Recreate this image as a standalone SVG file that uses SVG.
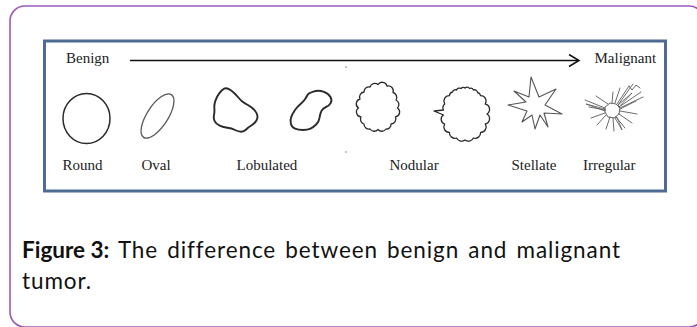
<svg xmlns="http://www.w3.org/2000/svg" width="697" height="327" viewBox="0 0 697 327">
  <style>
    .lbl { font-family: "Liberation Serif", "Times New Roman", serif; font-size: 15px; fill: #222; }
    .cap { font-family: Lato, "Liberation Sans", sans-serif; font-size: 22.5px; fill: #111; }
    .ink { fill: none; stroke: #2a2a2a; stroke-linejoin: round; stroke-linecap: round; }
    .ray { fill: none; stroke: #5a5a5a; stroke-width: 0.9; stroke-linecap: round; }
  </style>

  <!-- card -->
  <rect x="10" y="6" width="694" height="321" rx="15" fill="#fff" stroke="#9b59b6" stroke-width="1.6"/>
  <!-- figure frame -->
  <rect x="44.5" y="41" width="621" height="150" fill="#fff" stroke="#4d6b93" stroke-width="3"/>

  <!-- scale ends -->
  <g id="scale">
    <text class="lbl" x="66" y="63">Benign</text>
    <text class="lbl" x="594.5" y="63">Malignant</text>
  </g>

  <g id="connectors">
    <line x1="130" y1="60.5" x2="578" y2="60.5" stroke="#111" stroke-width="1.5"/>
    <polyline points="569,54.5 579,60.5 569,66.5" fill="none" stroke="#111" stroke-width="1.5" stroke-linejoin="miter"/>
  </g>

  <!-- specks -->
  <circle cx="346" cy="67" r="0.8" fill="#777"/>
  <circle cx="346" cy="152" r="0.8" fill="#777"/>

  <g id="round">
    <ellipse cx="86.5" cy="118.5" rx="23.5" ry="25" class="ink" stroke-width="1.5"/>
    <text class="lbl" x="62.5" y="170">Round</text>
  </g>

  <g id="oval">
    <ellipse cx="157.5" cy="116" rx="25.5" ry="10.5" transform="rotate(-57 157.5 116)" fill="none" stroke="#5a5a5a" stroke-width="1.3"/>
    <text class="lbl" x="141.5" y="170">Oval</text>
  </g>

  <g id="lobulated">
    <path class="ink" stroke-width="1.9" d="M224.2,88.65 Q226.7,87.3 230.85,90.3 Q235,93.3 238.35,97.5 Q241.7,101.7 245,103.35 Q248.3,105 251.650,107.5 Q255,110 256.65,113.35 Q258.3,116.7 256.65,120 Q255,123.3 251.65,125.3 Q248.3,127.3 246.15,129.5 Q244,131.7 241.15,131.7 Q238.3,131.7 235,130 Q231.7,128.3 227.5,127.8 Q223.3,127.3 219.65,125.65 Q216,124 214.65,121.15 Q213.3,118.3 214,115 Q214.7,111.7 214.35,108.35 Q214,105 215.35,100.85 Q216.7,96.7 219.2,93.35 Q221.7,90 224.2,88.65 Z"/>
    <path class="ink" stroke-width="1.9" d="M307.5,95 Q308.3,93.3 313.3,91.65 Q318.3,90 323.3,91.65 Q328.3,93.3 330.3,96.65 Q332.3,100 330.8,102.85 Q329.3,105.7 326,107 Q322.7,108.3 321.35,111.15 Q320,114 319.5,117.85 Q319,121.7 316.15,124.5 Q313.3,127.3 310.5,128.65 Q307.7,130 303,130 Q298.3,130 295,128.65 Q291.7,127.3 290.85,123.65 Q290,120 291.35,116.65 Q292.7,113.3 295,110 Q297.3,106.7 300.3,104.2 Q303.3,101.7 305,99.2 Q306.7,96.7 307.5,95 Z"/>
    <text class="lbl" x="236.5" y="170">Lobulated</text>
  </g>

  <g id="nodular">
    <path class="ink" stroke-width="1.3" d="M397.5,108 A5,5 0 0 1 395.5,117 A5,5 0 0 1 391,124 A4.5,4.5 0 0 1 386,129 A5,5 0 0 1 378,129.5 A5,5 0 0 1 370,129 A5,5 0 0 1 364,124 A5,5 0 0 1 361,117 A5,5 0 0 1 358.5,108 A5,5 0 0 1 360,99 A5,5 0 0 1 364,92 A5,5 0 0 1 370,87 A5,5 0 0 1 378,84.5 A5,5 0 0 1 387,86 A5,5 0 0 1 393,92.5 A5,5 0 0 1 396,100 A5,5 0 0 1 397.5,108 Z"/>
    <path class="ink" stroke-width="1.3" d="M487,114 A5.5,5.5 0 0 1 485.3,124 A5.5,5.5 0 0 1 480.6,132.4 A5.5,5.5 0 0 1 473.4,138 A5.5,5.5 0 0 1 465,140 A5.5,5.5 0 0 1 456.6,138 A5.5,5.5 0 0 1 449.4,132.4 A5.5,5.5 0 0 1 444.7,124 A5,5 0 0 1 443.5,115 L434,111 L443.5,110 A5,5 0 0 1 444.7,104 A5.5,5.5 0 0 1 449.4,95.6 A4,4 0 0 1 452.5,92 A3,3 0 0 1 456.6,90 A3,3 0 0 1 461,88.5 A3,3 0 0 1 465,88 A3,3 0 0 1 469.5,88.5 A3,3 0 0 1 473.4,90 A3,3 0 0 1 477.5,92.5 A4,4 0 0 1 480.6,95.6 A5.5,5.5 0 0 1 485.3,104 A5.5,5.5 0 0 1 487,114 Z"/>
    <text class="lbl" x="389.5" y="170">Nodular</text>
  </g>

  <g id="stellate">
    <polygon points="531,77 539,97 556,89 545,105 562,114 544,113 548,127 540,115 535,129 532,115 522,122 527,111 508,105 526,102 514,91 529,97" fill="none" stroke="#555" stroke-width="1.1" stroke-linejoin="round"/>
    <text class="lbl" x="511.5" y="170">Stellate</text>
  </g>

  <g id="irregular">
    <polygon points="605,107 610,103 616,104 620,108 619,114 614,118 608,117 605,112" fill="none" stroke="#555" stroke-width="0.9"/>
    <path class="ray" d="M605,108 L585,100 M605,110 L589,107 M608,104 L596,96 M612,103 L613,92 M615,103 L620,88 M617,104 L629,86 M618,105 L633,84 M619,107 L641,92 M620,108 L643,97 M620,111 L637,114 M619,114 L632,123 M616,117 L625,128 M613,118 L614,131 M610,117 L606,129 M606,115 L597,125 M605,113 L591,118 M629,86 L632,90 L636,85 L640,88 M620,109 L636,101"/>
    <polygon points="605,109 586,104 605,111" fill="none" stroke="#555" stroke-width="0.8"/>
    <polygon points="617,117 622,130 615,118" fill="none" stroke="#555" stroke-width="0.8"/>
    <polygon points="618,105 632,93 619,107" fill="none" stroke="#555" stroke-width="0.8"/>
    <text class="lbl" x="583" y="170">Irregular</text>
  </g>

  <!-- caption -->
  <g id="caption">
    <text class="cap" x="22" y="258"><tspan font-weight="bold">Figure 3:</tspan><tspan letter-spacing="0.9" word-spacing="2.5"> The difference between benign and malignant</tspan></text>
    <text class="cap" x="22" y="289" letter-spacing="0.9">tumor.</text>
  </g>
</svg>
